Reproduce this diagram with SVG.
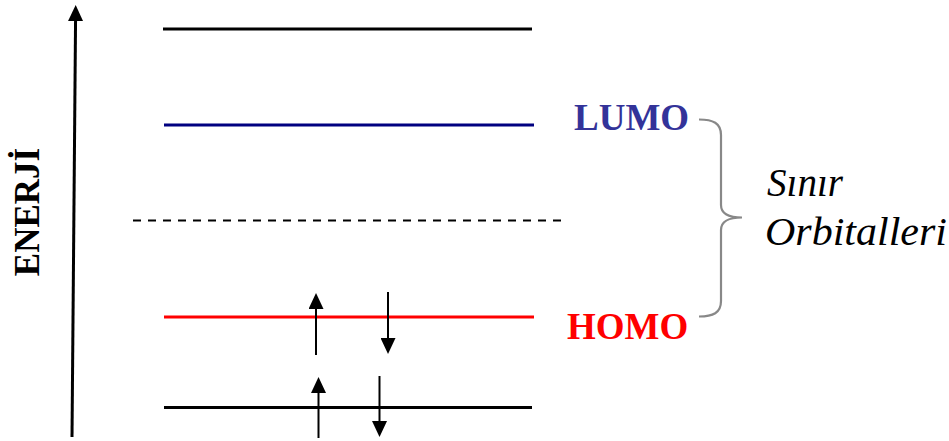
<svg xmlns="http://www.w3.org/2000/svg" width="949" height="441" viewBox="0 0 949 441">
  <defs>
    <style>
      .lvl { stroke-width: 3; fill: none; }
      .spin { stroke: #000; stroke-width: 2; fill: none; marker-end: url(#spinHead); }
      .lbl { font-family: "Liberation Serif", "Times New Roman", serif; font-weight: bold; font-size: 37px; }
      .note { font-family: "Liberation Serif", "Times New Roman", serif; font-style: italic; font-size: 40px; fill: #000; }
    </style>
    <marker id="spinHead" viewBox="0 0 16 15" markerWidth="16" markerHeight="15" refX="8" refY="7.5" orient="auto" markerUnits="userSpaceOnUse">
      <path d="M0,0 L16,7.5 L0,15 z" fill="#000"/>
    </marker>
    <marker id="bigHead" viewBox="0 0 16 15" markerWidth="16" markerHeight="15" refX="6" refY="7.5" orient="auto" markerUnits="userSpaceOnUse">
      <path d="M0,0 L16,7.5 L0,15 z" fill="#000"/>
    </marker>
  </defs>
  <rect width="949" height="441" fill="#fff"/>

  <g id="energy-axis">
    <line x1="72" y1="437" x2="75.6" y2="15" stroke="#000" stroke-width="3" marker-end="url(#bigHead)"/>
    <text class="lbl" transform="translate(39,212) rotate(-90)" text-anchor="middle" style="font-size:35px">ENERJİ</text>
  </g>

  <g id="level-top">
    <line class="lvl" x1="163" y1="29" x2="532" y2="29" stroke="#000"/>
  </g>
  <g id="level-lumo">
    <line class="lvl" x1="164" y1="125" x2="534" y2="125" stroke="#000080"/>
    <text class="lbl" x="574" y="130" fill="#333399">LUMO</text>
  </g>
  <g id="level-dashed">
    <line x1="133" y1="220.5" x2="562" y2="220.5" stroke="#000" stroke-width="2" stroke-dasharray="8 7"/>
  </g>
  <g id="level-homo">
    <line class="lvl" x1="164" y1="317" x2="534" y2="317" stroke="#ff0000"/>
    <text class="lbl" x="567" y="339" fill="#ff0000">HOMO</text>
  </g>
  <g id="level-bottom">
    <line class="lvl" x1="164" y1="407.5" x2="532" y2="407.5" stroke="#000"/>
  </g>

  <g id="connectors">
    <line class="spin" x1="316" y1="355" x2="316" y2="301"/>
    <line class="spin" x1="388" y1="292" x2="388" y2="346"/>
    <line class="spin" x1="318.5" y1="438" x2="318.5" y2="385"/>
    <line class="spin" x1="379.5" y1="376" x2="379.5" y2="429"/>
  </g>

  <g id="frontier-brace">
    <path d="M699,119.5 C713,119.5 721,123 721,135 L721,205 C721,213 728,217.5 742,217.5 C728,217.5 721,222 721,230 L721,301 C721,313 713,316.5 699,316.5" fill="none" stroke="#888" stroke-width="2.2"/>
    <text class="note" x="767" y="196" textLength="76" lengthAdjust="spacingAndGlyphs">Sınır</text>
    <text class="note" x="765" y="245" textLength="182" lengthAdjust="spacingAndGlyphs">Orbitalleri</text>
  </g>
</svg>
